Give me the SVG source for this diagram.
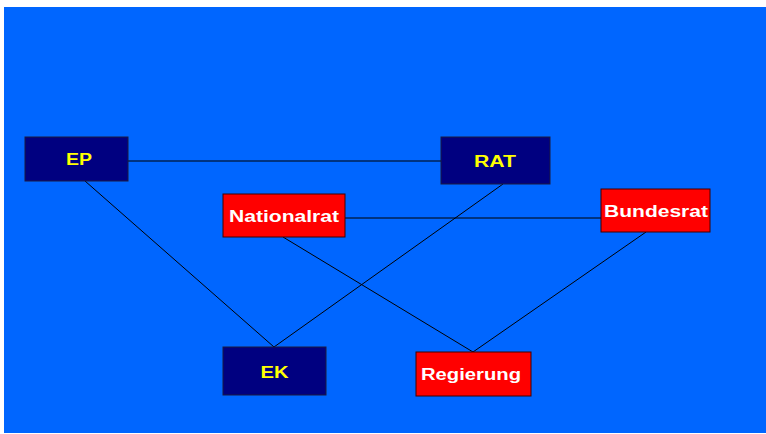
<svg xmlns="http://www.w3.org/2000/svg" width="766" height="434" viewBox="0 0 766 434">
<style>
.bg{fill:#0066FF}
.eu{fill:#000080;stroke:#1a1a40;stroke-width:1}
.at{fill:#FF0000;stroke:#400000;stroke-width:1}
.ty{fill:#FFFF00;font-family:"Liberation Sans",Arial,sans-serif;font-weight:bold;font-size:16px;text-anchor:middle}
.tw{fill:#FFFFFF;font-family:"Liberation Sans",Arial,sans-serif;font-weight:bold;font-size:16px;text-anchor:middle}
.ln{stroke:#000000;stroke-width:1;fill:none}
</style>
<rect x="0" y="0" width="766" height="434" fill="#FFFFFF"/>
<rect class="bg" x="4" y="7" width="762" height="426"/>
<g id="connectors">
<line class="ln" x1="128" y1="161" x2="441" y2="161"/>
<line class="ln" x1="85" y1="181" x2="274" y2="347"/>
<line class="ln" x1="503" y1="184" x2="274" y2="347"/>
<line class="ln" x1="345" y1="218" x2="601" y2="218"/>
<line class="ln" x1="283" y1="237" x2="473" y2="352"/>
<line class="ln" x1="646" y1="232" x2="473" y2="352"/>
</g>
<g id="EP">
<rect class="eu" x="25" y="137" width="103" height="44"/>
<text class="ty" x="79" y="165" textLength="26" lengthAdjust="spacingAndGlyphs">EP</text>
</g>
<g id="RAT">
<rect class="eu" x="441" y="137" width="109" height="47"/>
<text class="ty" x="495" y="167" textLength="42" lengthAdjust="spacingAndGlyphs">RAT</text>
</g>
<g id="Nationalrat">
<rect class="at" x="223" y="194" width="122" height="43"/>
<text class="tw" x="284" y="222" textLength="110" lengthAdjust="spacingAndGlyphs">Nationalrat</text>
</g>
<g id="Bundesrat">
<rect class="at" x="601" y="189" width="109" height="43"/>
<text class="tw" x="656" y="217" textLength="104" lengthAdjust="spacingAndGlyphs">Bundesrat</text>
</g>
<g id="EK">
<rect class="eu" x="223" y="347" width="103" height="48"/>
<text class="ty" x="274.5" y="378" textLength="28" lengthAdjust="spacingAndGlyphs">EK</text>
</g>
<g id="Regierung">
<rect class="at" x="416" y="352" width="115" height="44"/>
<text class="tw" x="471" y="380" textLength="100" lengthAdjust="spacingAndGlyphs">Regierung</text>
</g>
</svg>
